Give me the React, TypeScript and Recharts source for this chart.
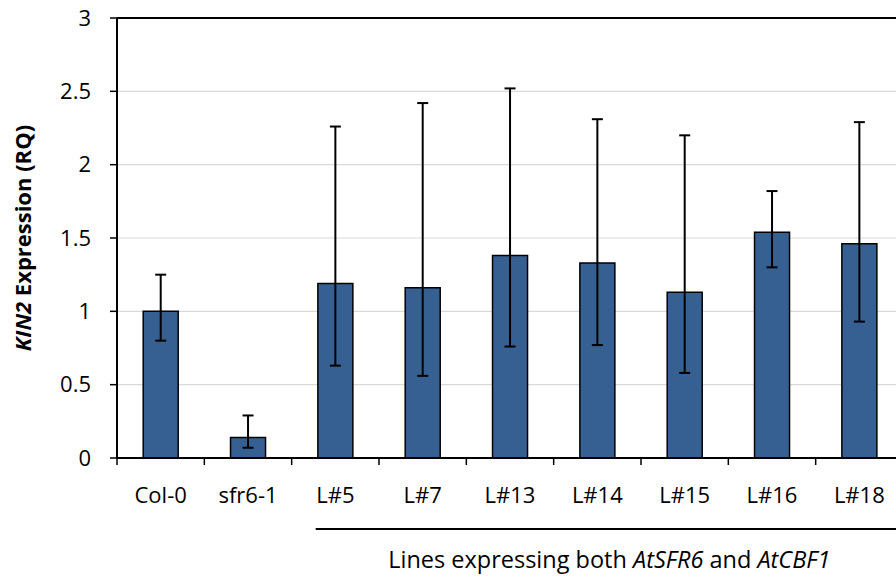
import { BarChart, Bar, XAxis, YAxis, CartesianGrid, ErrorBar, ReferenceLine } from 'recharts'

const categories = ['Col-0', 'sfr6-1', 'L#5', 'L#7', 'L#13', 'L#14', 'L#15', 'L#16', 'L#18']
const means = [1.0, 0.14, 1.19, 1.16, 1.38, 1.33, 1.13, 1.54, 1.46]
const lowerBounds = [0.8, 0.07, 0.63, 0.56, 0.76, 0.77, 0.58, 1.3, 0.93]
const upperBounds = [1.25, 0.29, 2.26, 2.42, 2.52, 2.31, 2.2, 1.82, 2.29]
const yTicks = [0, 0.5, 1, 1.5, 2, 2.5, 3]

const data = categories.map((name, i) => ({
  name,
  rq: means[i],
  err: [+(means[i] - lowerBounds[i]).toFixed(3), +(upperBounds[i] - means[i]).toFixed(3)],
}))

const FONT = '"Open Sans", sans-serif'
const CHART_W = 920
const CHART_H = 578
const MARGIN = { top: 18, right: 17, left: 0, bottom: 0 }
const Y_AXIS_W = 117
const X_AXIS_H = 120
const BAND = (CHART_W - MARGIN.left - MARGIN.right - Y_AXIS_W) / categories.length

// category label plus an Excel-style tick on the left edge of each band
function CategoryTick(props: any) {
  const { x, y, payload } = props
  const edge = x - BAND / 2
  return (
    <g>
      <line x1={edge} y1={y} x2={edge} y2={y + 7} stroke="#000" strokeWidth={1.5} />
      <text x={x} y={y + 29} dy="0.71em" textAnchor="middle" fill="#000" fontSize={22} fontFamily={FONT}>
        {payload.value}
      </text>
    </g>
  )
}

export default function App() {
  const plotBottom = CHART_H - MARGIN.bottom - X_AXIS_H
  const plotTop = MARGIN.top
  const midY = (plotTop + plotBottom) / 2
  const groupStart = MARGIN.left + Y_AXIS_W + BAND * 2 + 24
  const groupEnd = CHART_W - MARGIN.right
  return (
    <div style={{ position: 'fixed', left: 0, top: 0, width: 896, height: 578, overflow: 'hidden', background: '#fff' }}>
      <BarChart
        width={CHART_W}
        height={CHART_H}
        data={data}
        margin={MARGIN}
        barCategoryGap="30%"
      >
        <CartesianGrid vertical={false} stroke="#d9d9d9" strokeWidth={1.2} />
        <XAxis
          dataKey="name"
          height={X_AXIS_H}
          tickLine={false}
          tickSize={0}
          tickMargin={0}
          axisLine={{ stroke: '#000', strokeWidth: 2 }}
          tick={<CategoryTick />}
          interval={0}
        />
        <YAxis
          width={Y_AXIS_W}
          domain={[0, 3]}
          ticks={yTicks}
          tickSize={7}
          tickMargin={19}
          axisLine={{ stroke: '#000', strokeWidth: 2 }}
          tickLine={{ stroke: '#000', strokeWidth: 1.5 }}
          tick={{ fill: '#000', fontSize: 22, fontFamily: FONT }}
        />
        <ReferenceLine y={3} stroke="#000" strokeWidth={2} />
        <Bar dataKey="rq" fill="#376092" stroke="#000" strokeWidth={1.5} isAnimationActive={false}>
          <ErrorBar dataKey="err" width={5.5} stroke="#000" strokeWidth={2} isAnimationActive={false} />
        </Bar>
      </BarChart>
      <svg width={896} height={578} style={{ position: 'absolute', left: 0, top: 0, pointerEvents: 'none' }}>
        <text
          x={31}
          y={midY}
          transform={`rotate(-90 31 ${midY})`}
          textAnchor="middle"
          fontFamily={FONT}
          fontSize={22}
          fontWeight="bold"
          fill="#000"
        >
          <tspan fontStyle="italic">KIN2</tspan> Expression (RQ)
        </text>
        <line x1={groupStart} y1={529} x2={groupEnd} y2={529} stroke="#000" strokeWidth={2} />
        <text x={(groupStart + groupEnd) / 2} y={568} textAnchor="middle" fontFamily={FONT} fontSize={23.5} fill="#000">
          Lines expressing both <tspan fontStyle="italic">AtSFR6</tspan> and <tspan fontStyle="italic">AtCBF1</tspan>
        </text>
      </svg>
    </div>
  )
}
